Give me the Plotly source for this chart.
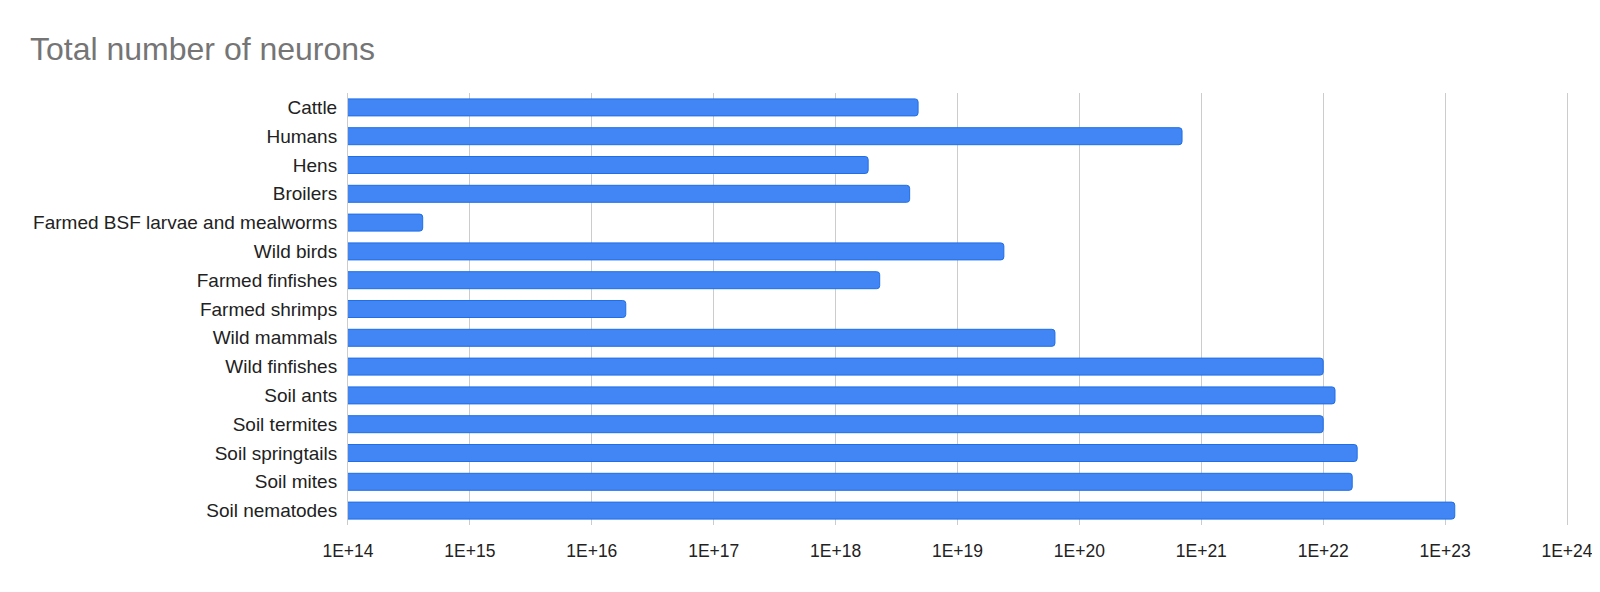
# %%
import plotly.graph_objects as go

# %%
# Data (top to bottom)
categories = [
    'Cattle', 'Humans', 'Hens', 'Broilers', 'Farmed BSF larvae and mealworms',
    'Wild birds', 'Farmed finfishes', 'Farmed shrimps', 'Wild mammals',
    'Wild finfishes', 'Soil ants', 'Soil termites', 'Soil springtails',
    'Soil mites', 'Soil nematodes',
]
neurons = [
    4.75e18, 6.95e20, 1.85e18, 4.05e18, 4.1e14,
    2.4e19, 2.3e18, 1.9e16, 6.3e19,
    1.0e22, 1.25e22, 1.0e22, 1.9e22,
    1.73e22, 1.2e23,
]
tick_vals = [10.0 ** p for p in range(14, 25)]
tick_text = ['1E+%d' % p for p in range(14, 25)]

# %%
W, H = 1600, 592

fig = go.Figure(go.Bar(
    x=neurons,
    y=categories,
    orientation='h',
    marker=dict(color='#4285f4', line=dict(color='#1f6fe6', width=1), cornerradius=3),
))

fig.update_layout(
    width=W,
    height=H,
    title=dict(
        text='Total number of neurons',
        x=22 / W, xanchor='left', xref='container',
        y=1 - 41 / H, yanchor='middle', yref='container',
        font=dict(family='Arial, Liberation Sans', size=32, color='#757575'),
    ),
    font=dict(family='Arial, Liberation Sans', color='#222222'),
    plot_bgcolor='white',
    paper_bgcolor='white',
    margin=dict(l=340, r=41, t=85, b=75),
    bargap=0.41,
    showlegend=False,
    xaxis=dict(
        type='log',
        range=[14, 24],
        tickvals=tick_vals,
        ticktext=tick_text,
        showgrid=True,
        gridcolor='#cccccc',
        gridwidth=1,
        zeroline=False,
        showline=False,
        ticks='',
        tickfont=dict(size=17.5),
        ticklabelstandoff=13,
        automargin=False,
    ),
    yaxis=dict(
        autorange='reversed',
        showgrid=False,
        zeroline=False,
        showline=True,
        linecolor='#cccccc',
        linewidth=1,
        mirror=True,
        ticks='',
        tickfont=dict(size=19),
        ticklabelstandoff=6,
        automargin=False,
    ),
)

fig.write_html('out.html')
